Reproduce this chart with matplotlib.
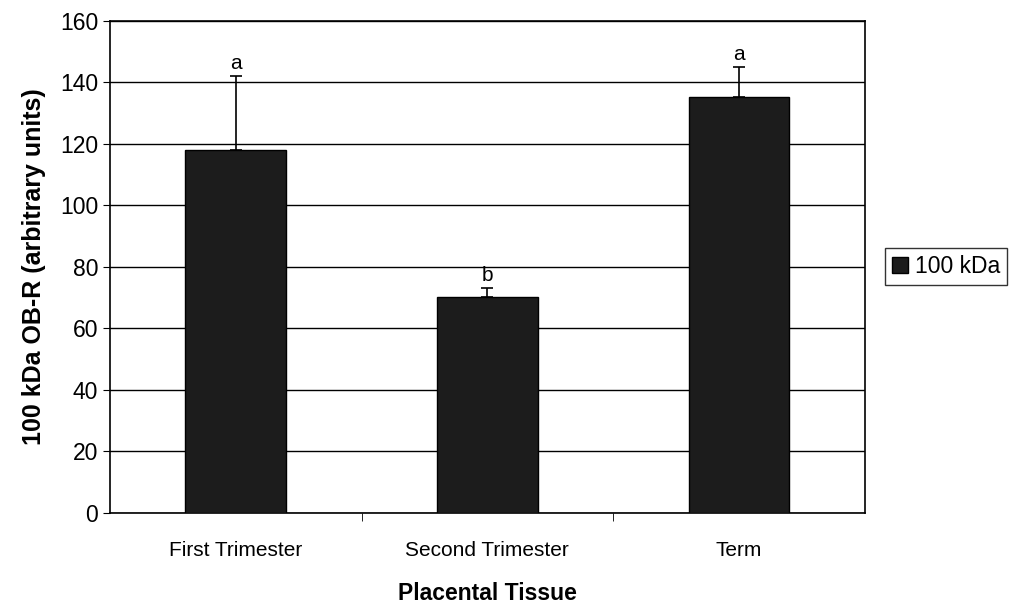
import numpy as np
import matplotlib.pyplot as plt

plt.rcParams['font.family'] = ['Liberation Sans', 'DejaVu Sans']

categories = ['First Trimester', 'Second Trimester', 'Term']
values = [118, 70, 135]
err_upper = [24, 3, 10]
letters = ['a', 'b', 'a']

fig = plt.figure(figsize=(10.13, 6.04), dpi=100)
ax = fig.add_axes([0.1086, 0.151, 0.745, 0.815])

x = np.arange(len(categories))
bars = ax.bar(x, values, width=0.4, color='#1c1c1c', edgecolor='black',
              label='100 kDa', zorder=3)
ax.errorbar(x, values, yerr=[np.zeros(len(values)), err_upper], fmt='none',
            ecolor='black', elinewidth=1.2, capsize=4, capthick=1.2, zorder=4)
for xi, v, e, t in zip(x, values, err_upper, letters):
    ax.text(xi, v + e + 1.0, t, ha='center', va='bottom', fontsize=15)

ax.set_xlim(-0.5, 2.5)
ax.set_ylim(0, 160)
ax.set_yticks(np.arange(0, 161, 20))
ax.set_xticks(x)
ax.set_xticklabels(categories, fontsize=15)
ax.tick_params(axis='x', length=0, pad=20)
ax.set_xticks([0.5, 1.5], minor=True)
ax.tick_params(axis='x', which='minor', length=6, direction='out')
ax.tick_params(axis='y', labelsize=16.5, direction='out', length=5)
ax.yaxis.grid(True, color='black', linewidth=1)
ax.set_axisbelow(True)
for s in ax.spines.values():
    s.set_linewidth(1.2)

ax.set_ylabel('100 kDa OB-R (arbitrary units)', fontsize=18, fontweight='bold', labelpad=10)
ax.set_xlabel('Placental Tissue', fontsize=16.5, fontweight='bold', labelpad=16)

leg = ax.legend(loc='center left', bbox_to_anchor=(1.012, 0.5), fontsize=16.5,
                frameon=True, fancybox=False, edgecolor='black',
                handlelength=0.7, handleheight=0.7, handletextpad=0.3,
                borderpad=0.3)

fig.savefig('out.png', dpi=100)
